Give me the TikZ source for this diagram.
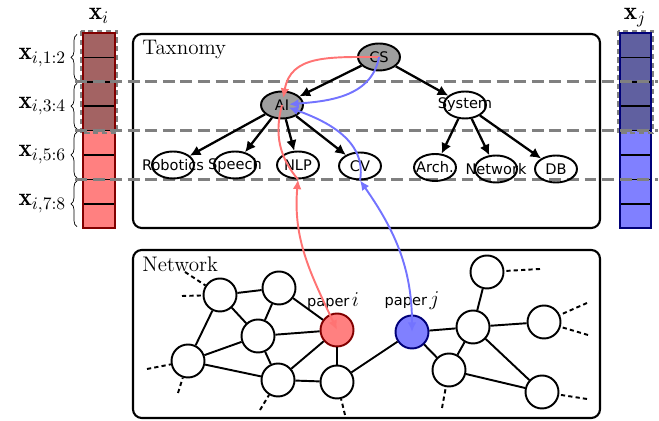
\documentclass[tikz,border=0pt]{standalone}
\usepackage{fontspec}
\usepackage{amsmath}
\newfontfamily\labelfont{DejaVu Sans}
\newcommand{\tagfont}{\labelfont\fontsize{8.3}{9.6}\selectfont}
\usetikzlibrary{shapes.geometric,decorations.pathreplacing,arrows.meta}
\definecolor{ilight}{RGB}{255,128,128}
\definecolor{idark}{RGB}{163,99,99}
\definecolor{iedge}{RGB}{130,0,0}
\definecolor{jlight}{RGB}{128,128,255}
\definecolor{jdark}{RGB}{96,96,160}
\definecolor{jedge}{RGB}{0,0,120}

\begin{document}
\begin{tikzpicture}[x=0.02cm,y=0.02cm,>={Latex[length=6pt,width=6pt]},
    every label/.style={font=\tagfont,inner sep=0pt},
    topic/.style={ellipse,draw,line width=1.1pt,minimum width=0.84cm,
      minimum height=0.54cm,inner sep=0pt},
    papernode/.style={circle,draw,line width=1.1pt,minimum size=0.66cm,
      inner sep=0pt,fill=white},
    isa/.style={->,line width=1.3pt},
    link/.style={line width=1.1pt},
    stub/.style={line width=1.1pt,dash pattern=on 2.4pt off 1.8pt},
    layerline/.style={gray,line width=1.6pt,dash pattern=on 6.8pt off 3.2pt},
    vcell/.style={draw=black,line width=0.9pt},
    panel/.style={draw,line width=1.2pt,rounded corners=5pt},
    trace/.style={line width=1.1pt,>={Latex[length=5.5pt,width=5pt]}}]
  \useasboundingbox (0,0) rectangle (659,421);

  % panels
  \draw[panel] (133,193) rectangle (600,387);
  \draw[panel] (133,3) rectangle (600,171);
  \node[anchor=base west,inner sep=0pt,font=\large] (taxtitle) at (142,366) {Taxnomy};
  \node[anchor=base west,inner sep=0pt,font=\large] (nettitle) at (142,149) {Network};

  % feature vectors
  \foreach \k in {0,...,3}{
    \draw[vcell,fill=idark] (83,{388-24.4*\k}) rectangle (115,{363.6-24.4*\k});
    \draw[vcell,fill=ilight] (83,{290.4-24.4*\k}) rectangle (115,{266-24.4*\k});
    \draw[vcell,fill=jdark] (620,{388-24.4*\k}) rectangle (651,{363.6-24.4*\k});
    \draw[vcell,fill=jlight] (620,{290.4-24.4*\k}) rectangle (651,{266-24.4*\k});
  }
  \draw[iedge,line width=1pt] (83,388) rectangle (115,192.8);
  \draw[jedge,line width=1pt] (620,388) rectangle (651,192.8);
  \draw[gray,densely dashed,line width=0.7pt] (81,390) rectangle (117,288);
  \draw[gray,densely dashed,line width=0.7pt] (618,390) rectangle (653,288);
  \node[font=\Large,anchor=base,inner sep=0pt] (xihead) at (99,401) {$\mathbf{x}_i$};
  \node[font=\Large,anchor=base,inner sep=0pt] (xjhead) at (635,401) {$\mathbf{x}_j$};

  \foreach \lo/\hi/\sub [count=\n] in {339.2/388/1:2,290.4/339.2/3:4,
      241.6/290.4/5:6,192.8/241.6/7:8}
    \draw[decorate,decoration={brace,amplitude=0.12cm}] (77,{\lo+1.5}) -- (77,{\hi-1.5})
      node[midway,left=0.21cm,inner sep=0pt,font=\Large] (xisub\n) {$\mathbf{x}_{i,\sub}$};

  \foreach \yy in {339.2,290.4,241.6}
    \draw[layerline] (75,\yy) -- (658,\yy);

  % taxonomy
  \node[topic,fill=gray!75,label=center:CS] (cs) at (379,364) {};
  \node[topic,fill=gray!75,label=center:AI] (ai) at (282,316) {};
  \node[topic,fill=white,label=center:System] (sys) at (465,316) {};
  \node[topic,label=center:Robotics] (rob) at (173,256) {};
  \node[topic,label=center:Speech] (spe) at (235,256) {};
  \node[topic,label=center:NLP] (nlp) at (298,256) {};
  \node[topic,label=center:CV] (cv) at (360,255) {};
  \node[topic,label=center:Arch.] (arch) at (435,253.5) {};
  \node[topic,label=center:Network] (net) at (496,252) {};
  \node[topic,label=center:DB] (db) at (556,252) {};
  \foreach \a/\b in {cs/ai,cs/sys,ai/rob,ai/spe,ai/nlp,ai/cv,sys/arch,sys/net,sys/db}
    \draw[isa] (\a) -- (\b);

  % citation network
  \foreach \name/\px/\py in {n1/220/126,n2/279/133,n3/258/85,n4/188/60,n5/278/41,
      n7/337/39,n9/487/149,n10/473/94,n11/544/99,n12/449/51,n13/542/29}
    \node[papernode] (\name) at (\px,\py) {};
  \node[papernode,fill=ilight,draw=iedge] (pi) at (337,91) {};
  \node[papernode,fill=jlight,draw=jedge] (pj) at (412,89) {};
  \node[font=\tagfont] (pilabel) at (333,120) {paper\,{\large$i$}};
  \node[font=\tagfont] (pjlabel) at (412,120) {paper\,{\large$j$}};

  \foreach \a/\b in {n1/n2,n1/n3,n1/n4,n2/n3,n2/pi,n3/pi,n3/n4,n3/n5,n4/n5,n5/pi,
      n5/n7,pi/n7,n7/pj,pj/n10,pj/n12,n10/n9,n10/n11,n10/n12,n10/n13,n12/n13}
    \draw[link] (\a) -- (\b);

  \foreach \c/\px/\py/\b in {s1/185/149/n1,s2/182/125/n1,s3/147/52/n4,s4/178/28/n4,
      s5/260/11/n5,s6/345/6/n7,s7/442/13/n12,s8/540/152/n9,s9/587/118/n11,
      s10/588/86/n11,s11/587/22/n13}{
    \coordinate (\c) at (\px,\py);
    \draw[stub] (\c) -- (\b);
  }

  % paths of the two papers
  \draw[trace,red!55,->,shorten >=4pt] (cs.center) to[out=180,in=80,looseness=1.2] (ai.center);
  \draw[trace,red!55] (ai.center) to[out=-105,in=130] (nlp.south);
  \draw[trace,red!55,<->] (nlp.south) to[out=-95,in=115] (pi.center);
  \draw[trace,blue!55,->,shorten >=4pt] (cs.center) to[out=-100,in=5] (ai.center);
  \draw[trace,blue!55,->,shorten >=4pt] (cv.south) to[out=80,in=-20] (ai.center);
  \draw[trace,blue!55,<->] (cv.south) to[out=-55,in=90] (pj.center);
\end{tikzpicture}
\end{document}
